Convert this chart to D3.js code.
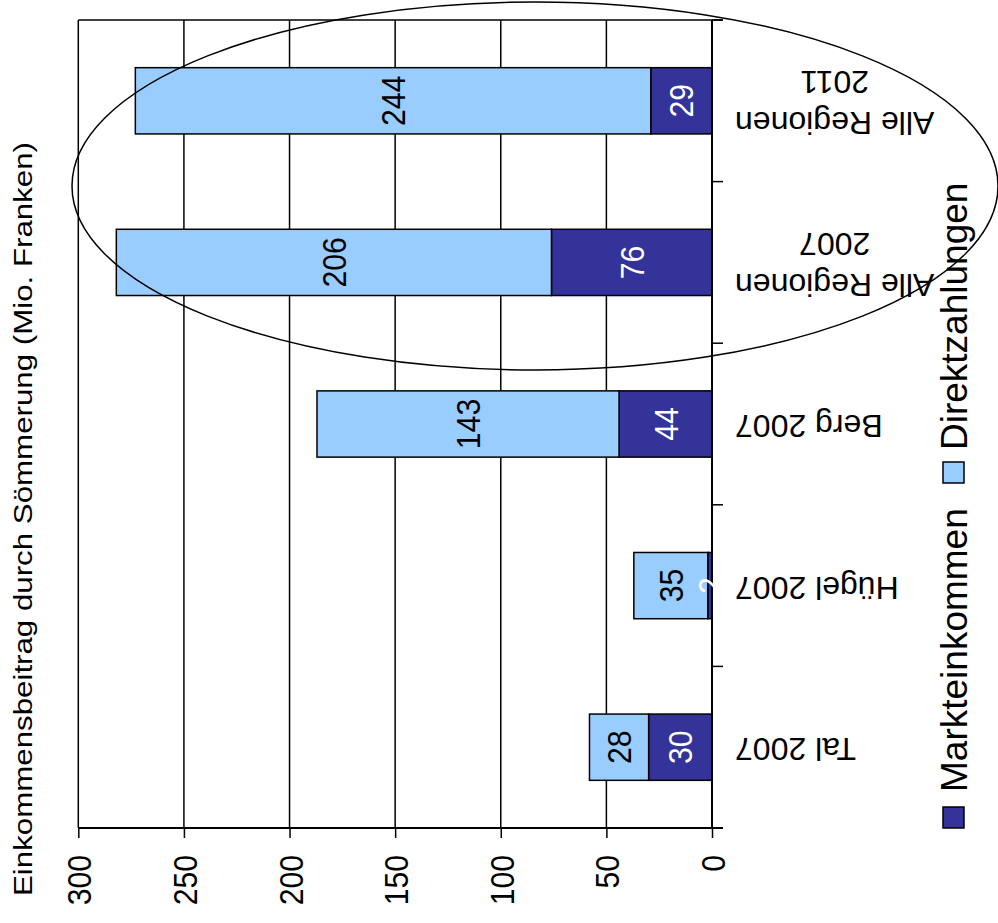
<!DOCTYPE html>
<html>
<head>
<meta charset="utf-8">
<script src="https://cdn.jsdelivr.net/npm/d3@7"></script>
<style>
html,body{margin:0;padding:0;background:#fff;}
svg{display:block;font-family:"Liberation Sans",Arial,sans-serif;}
</style>
</head>
<body>
<svg id="chart" width="998" height="923"></svg>
<script>
// ---- data ----
const categories = ["Tal 2007", "Hügel 2007", "Berg 2007", "Alle Regionen\n2007", "Alle Regionen\n2011"];
const seriesNames = ["Markteinkommen", "Direktzahlungen"];
const markteinkommen = [30, 2, 44, 76, 29];
const direktzahlungen = [28, 35, 143, 206, 244];
const tickValues = [0, 50, 100, 150, 200, 250, 300];
const axisTitle = "Einkommensbeitrag durch Sömmerung (Mio. Franken)";
const colors = ["#333399", "#99CCFF"];
const labelColors = ["#ffffff", "#000000"];

// ---- layout ----
const svg = d3.select("#chart");
const plotTop = 20, plotBottom = 828, zeroX = 712, maxX = 78.3;

const x = d3.scaleLinear().domain([0, 300]).range([zeroX, maxX]);
const y = d3.scaleBand().domain(categories).range([plotBottom, plotTop])
  .paddingInner(0.59).paddingOuter(0.295);

const rows = categories.map((c, i) => ({cat: c, Markteinkommen: markteinkommen[i], Direktzahlungen: direktzahlungen[i]}));
const stacked = d3.stack().keys(seriesNames)(rows);

// gridlines
svg.append("g").selectAll("line").data(tickValues.filter(t => t > 0)).join("line")
  .attr("x1", d => x(d)).attr("x2", d => x(d))
  .attr("y1", plotTop).attr("y2", plotBottom)
  .attr("stroke", "#000").attr("stroke-width", 1.5);
// top border
svg.append("line").attr("x1", x(300)).attr("x2", zeroX + 11)
  .attr("y1", plotTop).attr("y2", plotTop).attr("stroke", "#000").attr("stroke-width", 1.5);

// bars
const bars = svg.append("g");
stacked.forEach((s, si) => {
  bars.append("g").selectAll("rect").data(s).join("rect")
    .attr("x", d => x(d[1]))
    .attr("width", d => x(d[0]) - x(d[1]))
    .attr("y", d => y(d.data.cat))
    .attr("height", y.bandwidth())
    .attr("fill", colors[si])
    .attr("stroke", "#000").attr("stroke-width", 1.5);
});

// category axis (vertical line at zero)
svg.append("line").attr("x1", zeroX).attr("x2", zeroX)
  .attr("y1", plotTop).attr("y2", plotBottom).attr("stroke", "#000").attr("stroke-width", 2);
const step = y.step();
const bounds = d3.range(categories.length + 1).map(i => plotBottom - i * step);
svg.append("g").selectAll("line").data(bounds).join("line")
  .attr("x1", zeroX).attr("x2", zeroX + 11)
  .attr("y1", d => d).attr("y2", d => d)
  .attr("stroke", "#000").attr("stroke-width", 1.5);

// value axis
const axisG = svg.append("g").attr("transform", `translate(0,${plotBottom})`)
  .call(d3.axisBottom(x).tickValues(tickValues).tickSize(10).tickSizeOuter(0).tickFormat(""));
axisG.select(".domain").remove();
axisG.selectAll(".tick line").attr("stroke", "#000").attr("stroke-width", 1.5);
svg.append("line").attr("x1", x(300)).attr("x2", zeroX + 11)
  .attr("y1", plotBottom).attr("y2", plotBottom).attr("stroke", "#000").attr("stroke-width", 2);

// tick labels (rotated)
svg.append("g").selectAll("text").data(tickValues).join("text")
  .attr("transform", d => `translate(${x(d) + 13},855) rotate(-90) scale(0.9,1)`)
  .attr("text-anchor", "end")
  .attr("font-size", 33.5)
  .attr("fill", "#000")
  .text(d => d);

// value labels
stacked.forEach((s, si) => {
  svg.append("g").selectAll("text").data(s).join("text")
    .attr("transform", d => `translate(${(x(d[0]) + x(d[1])) / 2 + 12},${y(d.data.cat) + y.bandwidth() / 2}) rotate(-90) scale(0.9,1)`)
    .attr("text-anchor", "middle")
    .attr("font-size", 33.5)
    .attr("fill", labelColors[si])
    .text(d => d[1] - d[0]);
});

// category labels (upside down)
const catG = svg.append("g");
categories.forEach(c => {
  const lines = c.split("\n");
  const g = catG.append("g");
  const texts = lines.map(l => g.append("text").attr("font-size", 32).attr("text-anchor", "middle").text(l));
  const w = d3.max(texts, t => t.node().getComputedTextLength());
  const cx = 735 + w / 2;
  const cy = y(c) + y.bandwidth() / 2;
  const n = lines.length, lh = 41;
  texts.forEach((t, i) => {
    const by = cy - 9 + ((n - 1) / 2) * lh - i * lh;
    t.attr("transform", `translate(${cx},${by}) rotate(180)`);
  });
});

// axis title
svg.append("text")
  .attr("transform", "translate(32,896) rotate(-90)")
  .attr("font-size", 26)
  .attr("textLength", 754).attr("lengthAdjust", "spacingAndGlyphs")
  .text(axisTitle);

// legend
const legendPos = [{sq: 807, tx: 792}, {sq: 462, tx: 450}];
seriesNames.forEach((nm, i) => {
  svg.append("rect").attr("x", 943).attr("y", legendPos[i].sq).attr("width", 21).attr("height", 21)
    .attr("fill", colors[i]).attr("stroke", "#000").attr("stroke-width", 1.5);
  svg.append("text").attr("transform", `translate(967,${legendPos[i].tx}) rotate(-90)`)
    .attr("font-size", 37).text(nm);
});

// highlight ellipse
svg.append("ellipse").attr("cx", 535).attr("cy", 186).attr("rx", 463).attr("ry", 184)
  .attr("fill", "none").attr("stroke", "#000").attr("stroke-width", 1.5);
</script>
</body>
</html>
